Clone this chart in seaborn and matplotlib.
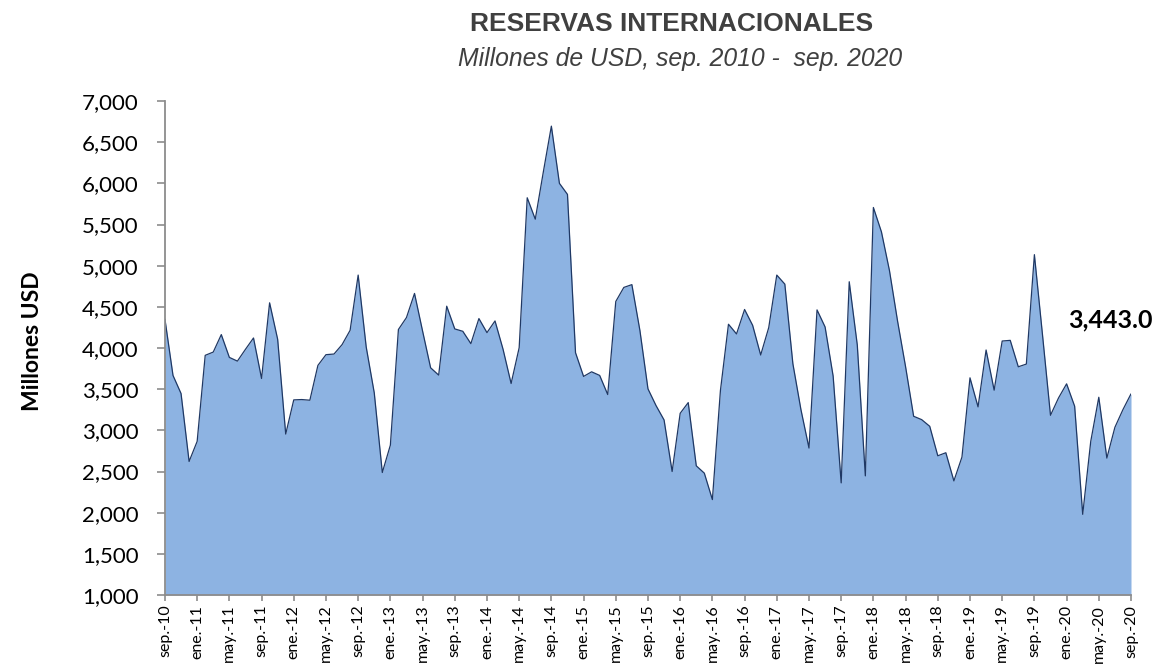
import numpy as np
import pandas as pd
import seaborn as sns
import matplotlib
matplotlib.use("Agg")
import matplotlib.pyplot as plt
from matplotlib.ticker import FuncFormatter, MultipleLocator

# Monthly international reserves, sep-2010 .. sep-2020 (millions of USD)
reservas = [
    4350, 3667, 3447, 2622, 2866, 3911, 3951, 4163, 3886, 3841, 3984, 4122,   # sep-10 .. ago-11
    3630, 4549, 4106, 2955, 3370, 3374, 3366, 3789, 3919, 3927, 4041, 4215,   # sep-11 .. ago-12
    4886, 4012, 3455, 2488, 2820, 4225, 4370, 4663, 4207, 3760, 3671, 4508,   # sep-12 .. ago-13
    4232, 4203, 4053, 4358, 4187, 4329, 3984, 3569, 4004, 5825, 5565, 6138,   # sep-13 .. ago-14
    6695, 6000, 5866, 3943, 3655, 3711, 3667, 3435, 4565, 4736, 4770, 4212,   # sep-14 .. ago-15
    3504, 3301, 3126, 2500, 3207, 3337, 2569, 2480, 2159, 3484, 4289, 4171,   # sep-15 .. ago-16
    4468, 4276, 3915, 4248, 4886, 4776, 3809, 3252, 2785, 4463, 4256, 3659,   # sep-16 .. ago-17
    2362, 4805, 4037, 2447, 5707, 5411, 4939, 4329, 3772, 3171, 3130, 3049,   # sep-17 .. ago-18
    2691, 2728, 2386, 2675, 3638, 3285, 3976, 3488, 4085, 4093, 3772, 3805,   # sep-18 .. ago-19
    5134, 4167, 3183, 3394, 3565, 3293, 1980, 2866, 3402, 2663, 3037, 3252,   # sep-19 .. ago-20
    3443.0,                                                                   # sep-20
]

meses = ["ene", "feb", "mar", "abr", "may", "jun", "jul", "ago", "sep", "oct", "nov", "dic"]
fechas = pd.date_range("2010-09-01", periods=len(reservas), freq="MS")
etiquetas = [f"{meses[d.month - 1]}.-{d.year % 100:02d}" for d in fechas]

titulo = "RESERVAS INTERNACIONALES"
subtitulo = "Millones de USD, sep. 2010 -  sep. 2020"
eje_y = "Millones USD"

df = pd.DataFrame({"mes": np.arange(len(reservas)), "reservas": reservas})

sns.set_style("white")
plt.rcParams["font.family"] = ["Lato", "DejaVu Sans"]

fig = plt.figure(figsize=(11.6, 6.66), dpi=100)
ax = fig.add_axes([0.1422, 0.1066, 0.975 - 0.1422, 0.8483 - 0.1066])

fill_color = "#8DB3E2"
line_color = "#1F3864"
grey = "#8C8C8C"

ax.fill_between(df["mes"], 1000, df["reservas"], color=fill_color, linewidth=0, zorder=1)
sns.lineplot(data=df, x="mes", y="reservas", ax=ax, color=line_color, linewidth=0.9, zorder=2)

ax.set_xlim(0, len(reservas) - 1)
ax.set_ylim(1000, 7000)
ax.yaxis.set_major_locator(MultipleLocator(500))
ax.yaxis.set_major_formatter(FuncFormatter(lambda v, p: f"{v:,.0f}"))

tick_pos = df["mes"].values[::4]
ax.set_xticks(tick_pos)
ax.set_xticklabels([etiquetas[i] for i in tick_pos], rotation=90, fontsize=11.5)

for s in ["top", "right"]:
    ax.spines[s].set_visible(False)
for s in ["left", "bottom"]:
    ax.spines[s].set_color(grey)
    ax.spines[s].set_linewidth(1.3)

ax.tick_params(axis="y", direction="out", length=6, width=1.2, color=grey,
               labelsize=16, pad=13, labelcolor="black", left=True)
ax.tick_params(axis="x", direction="out", length=4, width=1.2, color=grey,
               pad=3, labelcolor="black", bottom=True)

ax.set_xlabel("")
ax.set_ylabel("")
fig.text(0.028, 0.487, eje_y, rotation=90, ha="center", va="center",
         fontsize=16.5, fontweight="bold", color="black")

fig.text(0.579, 0.964, titulo, ha="center", va="center", fontsize=19,
         fontweight="bold", color="#404040", family=["Liberation Sans"])
fig.text(0.586, 0.911, subtitulo, ha="center", va="center", fontsize=17.8,
         style="italic", color="#404040", family=["Liberation Sans"])

ultimo = reservas[-1]
ax.annotate(f"{ultimo:,.1f}", xy=(len(reservas) - 1, ultimo), xytext=(-15, 53),
            textcoords="offset points", ha="center", va="center",
            fontsize=18, fontweight="bold", color="black", annotation_clip=False)

fig.savefig("out.png", dpi=100)
